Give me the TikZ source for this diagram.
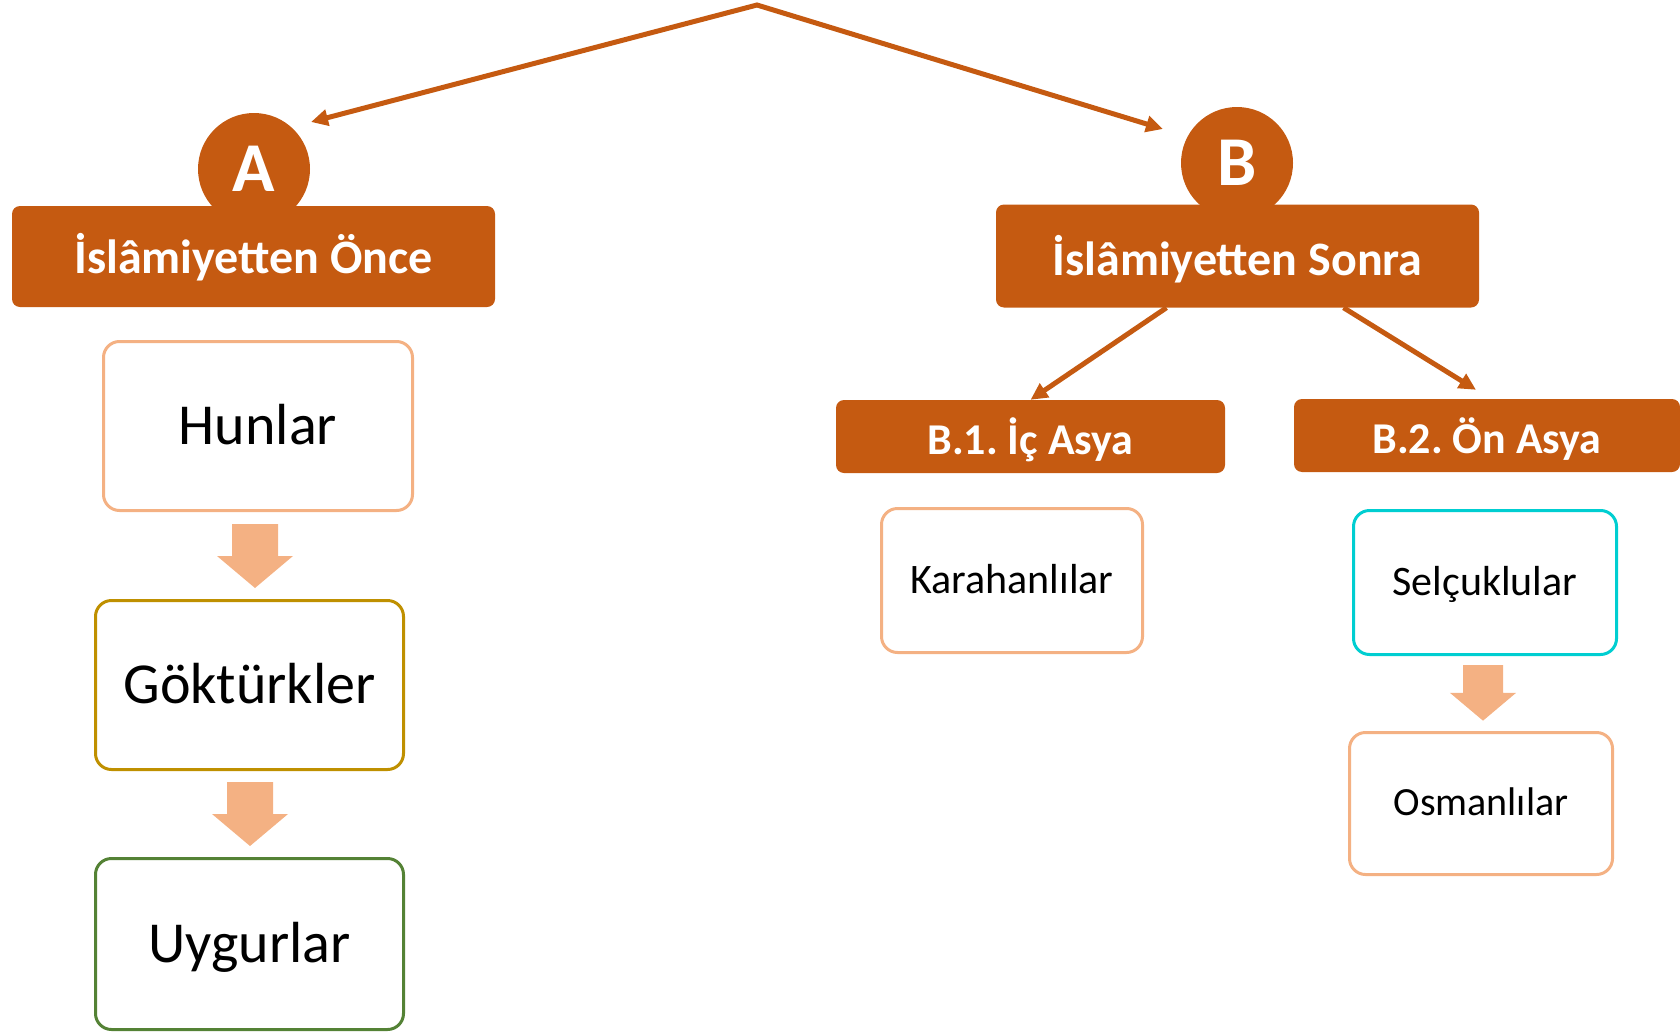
\documentclass[tikz,border=0pt]{standalone}
\usepackage{fontspec}
\setmainfont{Carlito}
\usetikzlibrary{arrows.meta}
\definecolor{rust}{HTML}{C55A11}
\definecolor{peach}{HTML}{F4B183}
\definecolor{gold}{HTML}{BF9000}
\definecolor{leaf}{HTML}{548235}
\definecolor{aqua}{HTML}{00CED1}
\frenchspacing
\tikzset{Drop/.pic={\fill[peach] (-23,0) -- (23,0) -- (23,32) -- (38,32) -- (0,64) -- (-38,32) -- (-23,32) -- cycle;}}
\begin{document}
\begin{tikzpicture}
    [x=1pt,y=-1pt,
     Badge/.style={circle,fill=rust,text=white,minimum size=112pt,inner sep=0pt,font=\bfseries\fontsize{70}{70}\selectfont},
     Head/.style={rectangle,rounded corners=8pt,fill=rust,text=white,inner sep=0pt,text height=36pt,text depth=3pt,font=\bfseries\fontsize{48}{48}\selectfont},
     SubHead/.style={Head,text height=35pt,text depth=0pt,font=\bfseries\fontsize{44}{44}\selectfont},
     Card/.style={rectangle,rounded corners=16pt,draw=peach,line width=3pt,fill=white,inner sep=0pt,text height=43.5pt,text depth=6.5pt,font=\fontsize{58}{58}\selectfont},
     SmallCard/.style={Card,text height=31.5pt,text depth=6.3pt,font=\fontsize{42}{42}\selectfont},
     Link/.style={draw=rust,line width=5pt}];
    \useasboundingbox (0,0) rectangle (1680,1033);
    % badges behind the headers
    \node[Badge] (badgeA) at (254,169) {A};
    \node[Badge] (badgeB) at (1237,163) {B};
    \node[Head,minimum width=483pt,minimum height=101pt] (headA) at (253.5,256.5) {İslâmiyetten Önce};
    \node[Head,text height=38pt,text depth=0pt,minimum width=483pt,minimum height=103pt] (headB) at (1237.5,256) {İslâmiyetten Sonra};
    \node[SubHead,minimum width=389pt,minimum height=73pt] (b1) at (1030.5,436.5) {B.1. İç Asya};
    \node[SubHead,minimum width=386pt,minimum height=73pt] (b2) at (1487,435.5) {B.2. Ön Asya};
    % top arrows
    \coordinate (top) at (757,5);
    \coordinate (tipA) at (311,122);
    \coordinate (tipB) at (1163,129);
    \draw[Link,{Triangle[length=17pt,width=16pt]}-{Triangle[length=17pt,width=16pt]}] (tipA) -- (top) -- (tipB);
    \draw[Link,-{Triangle[length=17pt,width=16pt]}] ([xshift=-71pt]headB.south) -- (b1.north);
    \draw[Link,-{Triangle[length=17pt,width=16pt]}] ([xshift=106pt]headB.south) -- ([xshift=-11pt,yshift=9pt]b2.north);
    % left column
    \node[Card,minimum width=309pt,minimum height=169pt] (hunlar) at (258,426) {Hunlar};
    \node[Card,draw=gold,minimum width=308pt,minimum height=169pt] (gokturk) at (249.5,685) {Göktürkler};
    \node[Card,draw=leaf,minimum width=308pt,minimum height=171pt] (uygur) at (249.5,944) {Uygurlar};
    \pic at (255,524) {Drop};
    \pic at (250,782) {Drop};
    % right column
    \node[SmallCard,minimum width=261pt,minimum height=144pt] (karahan) at (1012,580.5) {Karahanlılar};
    \node[SmallCard,draw=aqua,minimum width=263pt,minimum height=144pt] (selcuk) at (1485,582.5) {Selçuklular};
    \node[SmallCard,minimum width=263pt,minimum height=142pt,text height=30pt,text depth=6pt,font=\fontsize{40}{40}\selectfont] (osman) at (1481,803.5) {Osmanlılar};
    \pic[scale=0.87] at (1483,665) {Drop};
\end{tikzpicture}
\end{document}
